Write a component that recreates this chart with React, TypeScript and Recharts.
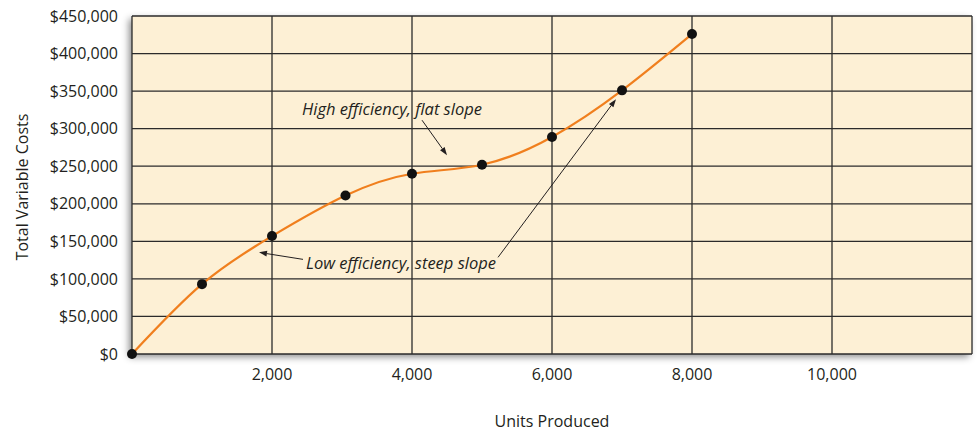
import {
  LineChart,
  Line,
  XAxis,
  YAxis,
  CartesianGrid,
  ReferenceLine,
  ReferenceDot,
} from 'recharts';

// units produced vs total variable cost
const units = [0, 1000, 2000, 3050, 4000, 5000, 6000, 7000, 8000];
const costs = [0, 93000, 157000, 211000, 240000, 252000, 289000, 351000, 426000];

const xTicks = [2000, 4000, 6000, 8000, 10000];
const yTicks = [0, 50000, 100000, 150000, 200000, 250000, 300000, 350000, 400000, 450000];

const data = units.map((u, i) => ({ units: u, cost: costs[i] }));

const FONT = '"Open Sans", sans-serif';
const TEXT = '#231f20';

const fmtMoney = (v: number) => '$' + v.toLocaleString('en-US');
const fmtUnits = (v: number) => v.toLocaleString('en-US');

// arrow with a small filled head at the (x2, y2) end
const Arrow = (props: any) => {
  const { x1, y1, x2, y2 } = props;
  if ([x1, y1, x2, y2].some((v) => v == null || isNaN(v))) return null;
  const ang = Math.atan2(y2 - y1, x2 - x1);
  const len = 8;
  const w = 2.8;
  const bx = x2 - len * Math.cos(ang);
  const by = y2 - len * Math.sin(ang);
  const px = -Math.sin(ang) * w;
  const py = Math.cos(ang) * w;
  return (
    <g>
      <line x1={x1} y1={y1} x2={bx} y2={by} stroke={TEXT} strokeWidth={1} />
      <polygon
        points={`${x2},${y2} ${bx + px},${by + py} ${bx - px},${by - py}`}
        fill={TEXT}
      />
    </g>
  );
};

const Note = (text: string) => (props: any) => {
  const { viewBox } = props;
  if (!viewBox) return null;
  return (
    <text
      x={viewBox.x}
      y={viewBox.y}
      textAnchor="middle"
      dominantBaseline="central"
      fontFamily={FONT}
      fontStyle="italic"
      fontSize={16.5}
      fill={TEXT}
    >
      {text}
    </text>
  );
};

const Dot = (props: any) => {
  const { cx, cy } = props;
  if (cx == null || cy == null) return null;
  return <circle cx={cx} cy={cy} r={5} fill="#111" />;
};

export default function App() {
  return (
    <div
      style={{
        position: 'fixed',
        left: 0,
        top: 0,
        width: 977,
        height: 431,
        overflow: 'hidden',
        background: '#fff',
      }}
    >
      <div
        style={{
          position: 'absolute',
          left: 132,
          top: 16,
          width: 840,
          height: 338,
          boxShadow: '-3px 3px 7px rgba(0,0,0,0.45)',
          background: '#fdf0d5',
        }}
      />
      <LineChart
        width={977}
        height={431}
        data={data}
        margin={{ top: 16, right: 5, left: 12, bottom: 17 }}
        style={{ position: 'absolute', left: 0, top: 0 }}
      >
        <CartesianGrid stroke="#2b2b2b" strokeWidth={1.3} />
        <XAxis
          type="number"
          dataKey="units"
          domain={[0, 12000]}
          ticks={xTicks}
          tickFormatter={fmtUnits}
          axisLine={false}
          tickLine={false}
          tickSize={6}
          tickMargin={9}
          height={60}
          tick={{ fill: TEXT, fontSize: 16, fontFamily: FONT }}
          label={(p: any) => {
            const vb = p.viewBox;
            if (!vb) return null;
            return (
              <text
                x={vb.x + vb.width / 2}
                y={421}
                textAnchor="middle"
                dominantBaseline="central"
                fontFamily={FONT}
                fontSize={16}
                fill={TEXT}
              >
                Units Produced
              </text>
            );
          }}
        />
        <YAxis
          type="number"
          dataKey="cost"
          domain={[0, 450000]}
          ticks={yTicks}
          tickFormatter={fmtMoney}
          axisLine={false}
          tickLine={false}
          tickSize={6}
          tickMargin={8}
          width={120}
          tick={{ fill: TEXT, fontSize: 16, fontFamily: FONT }}
          label={(p: any) => {
            const vb = p.viewBox;
            if (!vb) return null;
            const cy = vb.y + vb.height / 2 + 2;
            return (
              <text
                x={22}
                y={cy}
                transform={`rotate(-90 22 ${cy})`}
                textAnchor="middle"
                dominantBaseline="central"
                fontFamily={FONT}
                fontSize={16}
                fill={TEXT}
              >
                Total Variable Costs
              </text>
            );
          }}
        />
        <ReferenceLine
          segment={[{ x: 4143, y: 311300 }, { x: 4500, y: 264700 }]}
          shape={Arrow}
        />
        <ReferenceLine
          segment={[{ x: 2443, y: 126000 }, { x: 1814, y: 135300 }]}
          shape={Arrow}
        />
        <ReferenceLine
          segment={[{ x: 5229, y: 128700 }, { x: 6914, y: 339300 }]}
          shape={Arrow}
        />
        <ReferenceDot x={3714} y={327300} r={0} stroke="none" label={Note('High efficiency, flat slope')} />
        <ReferenceDot x={3843} y={122000} r={0} stroke="none" label={Note('Low efficiency, steep slope')} />
        <Line
          type="natural"
          dataKey="cost"
          stroke="#f07f1e"
          strokeWidth={2.2}
          dot={<Dot />}
          activeDot={false}
          isAnimationActive={false}
        />
      </LineChart>
    </div>
  );
}
